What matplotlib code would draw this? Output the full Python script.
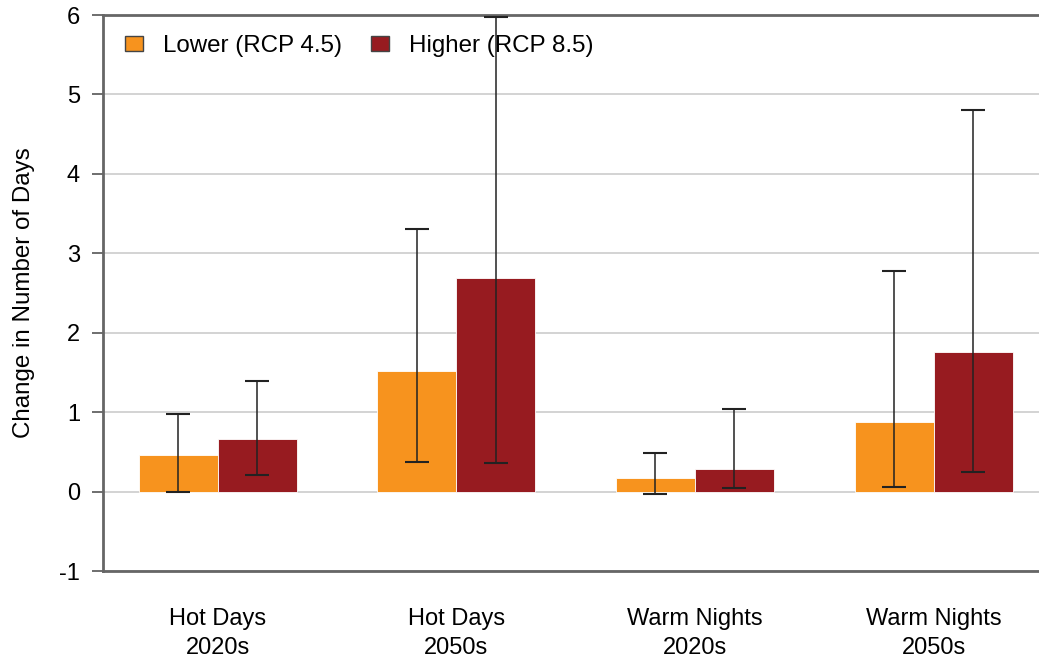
import matplotlib
matplotlib.use("Agg")
import matplotlib.pyplot as plt
import numpy as np
from matplotlib.patches import Patch

categories = ["Hot Days\n2020s", "Hot Days\n2050s", "Warm Nights\n2020s", "Warm Nights\n2050s"]
series_names = ["Lower (RCP 4.5)", "Higher (RCP 8.5)"]
lower_vals = [0.46, 1.52, 0.17, 0.88]
lower_err_low = [-0.01, 0.37, -0.03, 0.06]
lower_err_high = [0.98, 3.31, 0.49, 2.78]
higher_vals = [0.66, 2.69, 0.29, 1.76]
higher_err_low = [0.21, 0.36, 0.04, 0.25]
higher_err_high = [1.39, 5.98, 1.04, 4.80]
yticks = [-1, 0, 1, 2, 3, 4, 5, 6]

plt.rcParams['font.family'] = ['Liberation Sans', 'DejaVu Sans']

fig = plt.figure(figsize=(10.39, 6.6), dpi=100)
ax = fig.add_axes([103/1039, 89/660, 936/1039, 556/660])

x = np.arange(len(categories))
w = 0.331
c_low = '#F7931E'
c_high = '#971B20'

ax.set_axisbelow(True)
ax.yaxis.grid(True, color='#cccccc', linewidth=1.2)

for vals, lo, hi, off, col in [(lower_vals, lower_err_low, lower_err_high, -w/2, c_low),
                               (higher_vals, higher_err_low, higher_err_high, w/2, c_high)]:
    vals = np.array(vals); lo = np.array(lo); hi = np.array(hi)
    ax.bar(x + off, vals, width=w, color=col, edgecolor='white', linewidth=0.6, zorder=2)
    ax.errorbar(x + off, vals, yerr=[vals - lo, hi - vals], fmt='none',
                ecolor='#222222', elinewidth=1.1, capsize=8.3, capthick=1.5, zorder=3)

ax.set_xlim(-0.480, 3.442)
ax.set_ylim(-1, 6)
ax.set_yticks(yticks)
ax.set_yticklabels([str(t) for t in yticks], fontsize=17)
ax.set_xticks(x)
ax.set_xticklabels(categories, fontsize=17, linespacing=1.4)
ax.tick_params(axis='x', length=0, pad=26.5)
ax.tick_params(axis='y', length=8, width=1.2, color='#555555', pad=8.6)

for s in ['left', 'bottom', 'top']:
    ax.spines[s].set_color('#666666')
    ax.spines[s].set_linewidth(2.0)
ax.spines['right'].set_visible(False)

ax.set_ylabel("Change in Number of Days", fontsize=17.4, labelpad=17)

handles = [Patch(facecolor=c_low, edgecolor='#444444', linewidth=1.0),
           Patch(facecolor=c_high, edgecolor='#444444', linewidth=1.0)]
leg = ax.legend(handles, series_names, loc='upper left', frameon=False, fontsize=17.4,
                ncol=2, handlelength=0.75, handleheight=0.62, handletextpad=0.83,
                columnspacing=1.2, borderaxespad=0, borderpad=0,
                bbox_to_anchor=(22/936, 1 - 20/556))

fig.savefig("out.png", dpi=100)
